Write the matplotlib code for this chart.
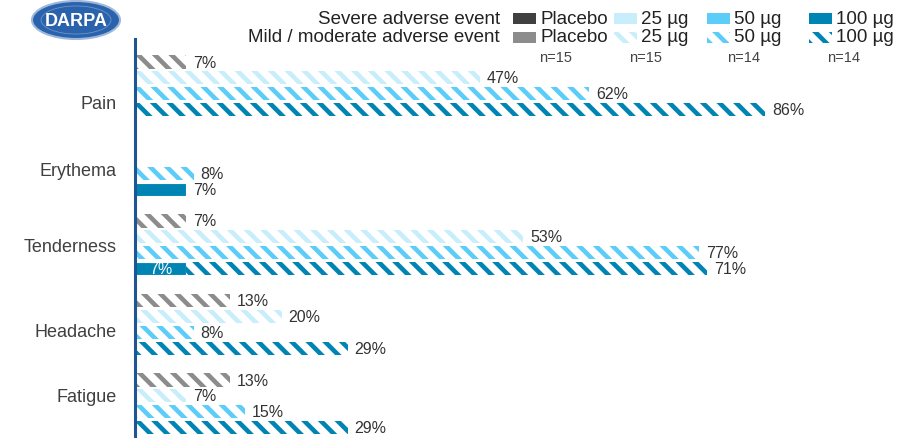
import matplotlib
matplotlib.use("Agg")
import matplotlib.pyplot as plt
from matplotlib.patches import Rectangle, Ellipse

plt.rcParams['font.family'] = ['Liberation Sans', 'DejaVu Sans']
plt.rcParams['hatch.linewidth'] = 3.3

# ---------------- data ----------------
categories = ["Pain", "Erythema", "Tenderness", "Headache", "Fatigue"]
groups = ["Placebo", "25 µg", "50 µg", "100 µg"]
group_n = ["n=15", "n=15", "n=14", "n=14"]
mild_placebo = [7, 0, 7, 13, 13]
mild_25 = [47, 0, 53, 20, 7]
mild_50 = [62, 8, 77, 8, 15]
mild_100 = [86, 0, 71, 29, 29]
severe_placebo = [0, 0, 0, 0, 0]
severe_25 = [0, 0, 0, 0, 0]
severe_50 = [0, 0, 0, 0, 0]
severe_100 = [0, 7, 7, 0, 0]

mild = [mild_placebo, mild_25, mild_50, mild_100]
severe = [severe_placebo, severe_25, severe_50, severe_100]

# ---------------- style / layout ----------------
severe_colors = ["#404040", "#c8edfb", "#5ccdf8", "#0084b4"]
mild_colors = ["#8c8c8c", "#c8edfb", "#5ccdf8", "#0084b4"]
text_col = "#333333"
HATCH = "\\\\"
label_shift = [1.0, 0.2, 0.0, 0.3, -0.6]   # category label nudges (slot units)

W, H = 909, 439
fig = plt.figure(figsize=(W / 100, H / 100), dpi=100)

ax_left, ax_right, ax_top = 135, 895, 40
px_per_pct = 7.33
first_bar_px, slot_px = 63, 15.9
ax = fig.add_axes([ax_left / W, 0, (ax_right - ax_left) / W, (H - ax_top) / H])
ax.set_xlim(0, (ax_right - ax_left) / px_per_pct)
ax.set_ylim((H - first_bar_px) / slot_px, (ax_top - first_bar_px) / slot_px)

bar_h = 0.82
slots_per_group = len(groups) + 1
for gi in range(len(groups)):
    for ci in range(len(categories)):
        y = ci * slots_per_group + gi
        s = severe[gi][ci]
        m = mild[gi][ci]
        if s > 0:
            ax.barh(y, s, height=bar_h, color=severe_colors[gi],
                    edgecolor="white", linewidth=0.8)
        if m > 0:
            ax.barh(y, m, left=s, height=bar_h, color="white",
                    edgecolor=mild_colors[gi], linewidth=0, hatch=HATCH)
        if m > 0:
            ax.annotate(f"{m}%", (s + m, y), xytext=(5, 0), textcoords="offset points",
                        va="center", ha="left", fontsize=11.5, color=text_col)
            if s > 0:
                ax.text(s / 2, y, f"{s}%", va="center", ha="center",
                        fontsize=11.5, color="white")
        elif s > 0:
            ax.annotate(f"{s}%", (s, y), xytext=(5, 0), textcoords="offset points",
                        va="center", ha="left", fontsize=11.5, color=text_col)

centers = [ci * slots_per_group + (len(groups) - 1) / 2 + label_shift[ci]
           for ci in range(len(categories))]
ax.set_yticks(centers, categories)
ax.tick_params(axis="y", length=0, pad=13, labelsize=13, labelcolor="#404040")
ax.set_xticks([])
for sp in ["top", "right", "bottom"]:
    ax.spines[sp].set_visible(False)
ax.spines["left"].set_color("#1f5591")
ax.spines["left"].set_linewidth(2.2)


# ---------------- legend (figure pixel coords) ----------------
def fx(px):
    return px / W


def fy(py):
    return 1 - py / H


row_y = [19, 38]
fig.text(fx(500), fy(row_y[0]), "Severe adverse event", ha="right", va="center",
         fontsize=13.5, color="#222222")
fig.text(fx(500), fy(row_y[1]), "Mild / moderate adverse event", ha="right", va="center",
         fontsize=13.5, color="#222222")
patch_x = [513, 614, 707, 809]
n_x = [556, 646, 744, 844]
pw, ph = 23, 11
for gi, g in enumerate(groups):
    for ri in range(2):
        yc = row_y[ri]
        if ri == 0:
            r = Rectangle((fx(patch_x[gi]), fy(yc + ph / 2)), pw / W, ph / H,
                          transform=fig.transFigure, facecolor=severe_colors[gi],
                          edgecolor="none", linewidth=0)
        else:
            r = Rectangle((fx(patch_x[gi]), fy(yc + ph / 2)), pw / W, ph / H,
                          transform=fig.transFigure, facecolor="white",
                          edgecolor=mild_colors[gi], linewidth=0,
                          hatch=HATCH if gi > 0 else None)
            if gi == 0:
                r.set_facecolor(mild_colors[gi])
        fig.add_artist(r)
        fig.text(fx(patch_x[gi] + pw + 4), fy(yc), g, ha="left", va="center",
                 fontsize=13.5, color="#222222")
    fig.text(fx(n_x[gi]), fy(58), group_n[gi], ha="center", va="center",
             fontsize=10.5, color="#444444")

# ---------------- DARPA logo ----------------
logo = Ellipse((fx(76), fy(21)), 88 / W, 38 / H, transform=fig.transFigure,
               facecolor="#2a62ab", edgecolor="#9db8dc", linewidth=1.5)
fig.add_artist(logo)
inner = Ellipse((fx(76), fy(21)), 70 / W, 28 / H, transform=fig.transFigure,
                facecolor="none", edgecolor="#6a95cc", linewidth=0.6)
fig.add_artist(inner)
fig.text(fx(76), fy(22), "DARPA", ha="center", va="center", fontsize=13,
         fontweight="bold", color="white")

fig.savefig("out.png", dpi=100)
